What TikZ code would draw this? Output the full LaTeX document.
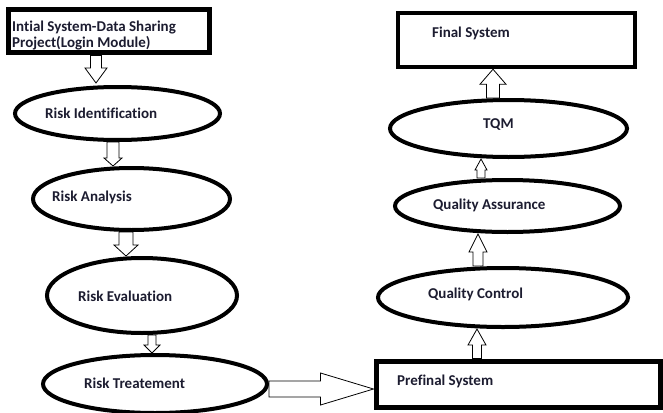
\documentclass[tikz,border=0pt]{standalone}
\usepackage{fontspec}
\setmainfont[Ligatures=NoCommon]{Carlito}
\usetikzlibrary{calc}
\usetikzlibrary{shapes.geometric}
\definecolor{ink}{RGB}{28,28,48}

\newcommand\blockvert[5]{
 \draw[blockarr] let \p1=#1, \p2=#2 in
  ({\x1-#3},\y1) -- ({\x1-#3},{\y2+#5}) -- ({\x1-#4},{\y2+#5}) -- (\x1,\y2)
  -- ({\x1+#4},{\y2+#5}) -- ({\x1+#3},{\y2+#5}) -- ({\x1+#3},\y1) -- cycle;
}
\newcommand\blockhorz[5]{
 \draw[blockarr] let \p1=#1, \p2=#2 in
  (\x1,{\y1-#3}) -- ({\x2-#5},{\y1-#3}) -- ({\x2-#5},{\y1-#4}) -- (\x2,\y1)
  -- ({\x2-#5},{\y1+#4}) -- ({\x2-#5},{\y1+#3}) -- (\x1,{\y1+#3}) -- cycle;
}

\begin{document}
\begin{tikzpicture}[x=1pt,y=-1pt,
  oval/.style={ellipse,draw,line width=4pt,inner sep=0pt},
  sysbox/.style={rectangle,draw,line width=5pt,inner sep=0pt},
  lbl/.style={anchor=west,inner sep=0pt,text=ink,font=\bfseries\fontsize{15}{15.5}\selectfont},
  blockarr/.style={draw=black,fill=white,line width=0.8pt,line join=miter}]
\useasboundingbox[fill=white] (0,0) rectangle (663,412);
\node[sysbox,minimum width=201,minimum height=43] (ini) at (108.5,31.5) {};
\node[sysbox,line width=4.5pt,minimum width=237,minimum height=54] (fin) at (516.5,40) {};
\node[sysbox,minimum width=284,minimum height=46] (pre) at (518,384) {};
\foreach \n/\cx/\cy/\rx/\ry in {rid/117.5/113.5/102.5/26.5, ran/131.5/199/98.5/31,
  rev/142/295.5/95/37.5, rtr/155/384/112/29, qc/503/297.5/125/29.5,
  qa/507.5/206/112.5/26, tqm/508.5/128.5/118.5/28.5} {
 \node[oval,minimum width=2*\rx,minimum height=2*\ry] (\n) at (\cx,\cy) {};
}
\node[lbl,align=left] (init) at (12,35.5) {Intial System-Data Sharing\\Project(Login Module)};
\foreach \n/\x/\y/\t in {ridt/45/113/Risk Identification, rant/52/197/Risk Analysis,
  revt/78/296/Risk Evaluation, rtrt/84/383/Risk Treatement, pret/397/381/Prefinal System,
  qct/428/294/Quality Control, qat/433/205/Quality Assurance, tqmt/483/125/TQM,
  fint/432/33/Final System} {
 \node[lbl] (\n) at (\x,\y) {\t};
}
\foreach \a/\b/\dx/\dy/\w/\hw/\hl in {ini/rid/-12.5/2/5.5/11/15, rid/ran/-4.5/0/6/9/8,
  ran/rev/-5.5/0/7/12/11, rev/rtr/10/0/4/8/8} {
 \blockvert{([xshift=\dx]\a.south)}{([yshift=\dy]\b.north)}{\w}{\hw}{\hl}
}
\foreach \a/\b/\dx/\dy/\w/\hw/\hl in {pre/qc/-41/0/4.5/9/16, qc/qa/-25/0/5/9/18,
  qa/tqm/-26.5/0/4/6/11, tqm/fin/-15.5/0/6.5/13/15} {
 \blockvert{([xshift=\dx]\a.north)}{([yshift=\dy]\b.south)}{\w}{\hw}{-\hl}
}
\blockhorz{([yshift=-5]rtr.east)}{(pre.west)}{8}{16}{53}
\end{tikzpicture}
\end{document}
